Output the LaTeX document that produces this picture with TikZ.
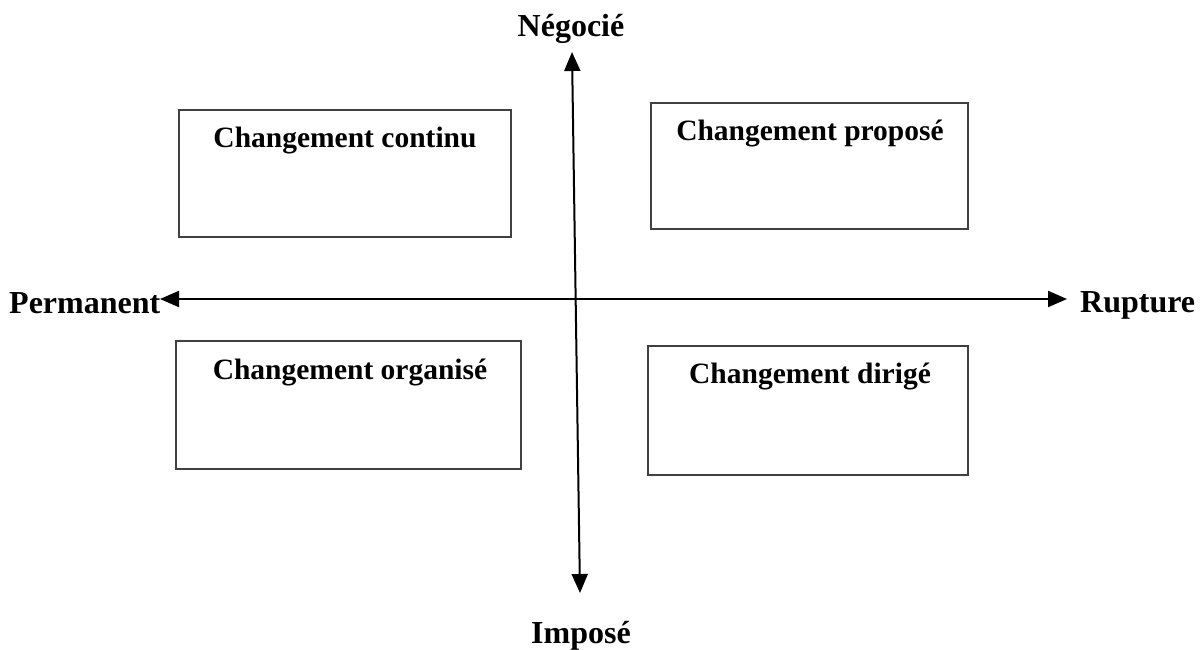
\documentclass[tikz,border=0pt]{standalone}
\usepackage{fontspec}
\setmainfont{Liberation Serif}
\usetikzlibrary{arrows.meta}
\begin{document}
\begin{tikzpicture}[x=1pt,y=-1pt,
  box/.style={draw=black!75,line width=2pt},
  boxlabel/.style={anchor=base,inner sep=0pt,font=\fontsize{29.5}{35}\selectfont\bfseries},
  axislabel/.style={inner sep=0pt,font=\fontsize{32}{38}\selectfont\bfseries},
  axis/.style={line width=2pt,{Triangle[length=19pt,width=16pt]}-{Triangle[length=19pt,width=16pt]}}]
\useasboundingbox (0,0) rectangle (1200,650);
% boxes
\draw[box] (179,110) rectangle (511,237) coordinate (b1);
\draw[box] (651,103) rectangle (968,229) coordinate (b2);
\draw[box] (176,341) rectangle (521,469) coordinate (b3);
\draw[box] (648,346) rectangle (968,475) coordinate (b4);
\node[boxlabel] (l1) at (345,148) {Changement continu};
\node[boxlabel] (l2) at (810,141) {Changement proposé};
\node[boxlabel] (l3) at (350,379) {Changement organisé};
\node[boxlabel] (l4) at (810,383) {Changement dirigé};
% axes
\coordinate (left) at (160,299);
\coordinate (right) at (1067,299);
\coordinate (top) at (572,52);
\coordinate (bottom) at (580,593);
\draw[axis] (left) -- (right);
\draw[axis] (top) -- (bottom);
% axis labels
\node[axislabel,anchor=base] (neg) at (571,37) {Négocié};
\node[axislabel,anchor=base west] (perm) at (9,313) {Permanent};
\node[axislabel,anchor=base west] (rup) at (1080,312) {Rupture};
\node[axislabel,anchor=base] (imp) at (581,643) {Imposé};
\end{tikzpicture}
\end{document}
